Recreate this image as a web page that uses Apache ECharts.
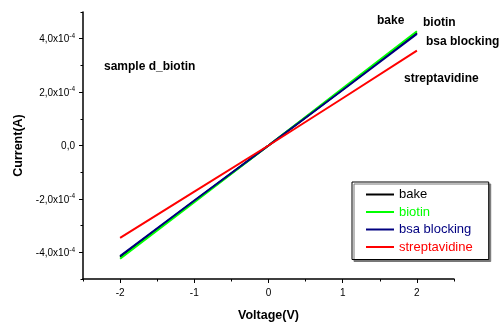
<!DOCTYPE html>
<html>
<head>
<meta charset="utf-8">
<script src="https://cdn.jsdelivr.net/npm/echarts@6/dist/echarts.min.js"></script>
<style>
  html, body { margin: 0; padding: 0; background: #fff; }
  #chart { width: 502px; height: 327px; }
</style>
</head>
<body>
<div id="chart"></div>
<script>
// data
const voltage = [-2, -1, 0, 1, 2]
const bake = [-4.17e-4, -2.08e-4, 0, 2.1e-4, 4.22e-4]
const biotin = [-4.24e-4, -2.12e-4, 0, 2.14e-4, 4.28e-4]
const bsaBlocking = [-4.14e-4, -2.06e-4, 0, 2.08e-4, 4.18e-4]
const streptavidine = [-3.46e-4, -1.73e-4, 0, 1.77e-4, 3.55e-4]

const xTickValues = [-2, -1, 0, 1, 2]
const yTickValues = [-4e-4, -2e-4, 0, 2e-4, 4e-4]
const yTickLabels = ['-4,0x10', '-2,0x10', '0,0', '2,0x10', '4,0x10']
const yTickExp = ['-4', '-4', '', '-4', '-4']

const FONT = '"Liberation Sans", Arial, sans-serif'

const pairs = (ys) => voltage.map((v, i) => [v, ys[i]])

const yLabel = (value) => {
    const i = yTickValues.findIndex(t => Math.abs(t - value) < 1e-9)
    if (i < 0) return ''
    if (!yTickExp[i]) return '{a|' + yTickLabels[i] + '}'
    return '{a|' + yTickLabels[i] + '}{s|' + yTickExp[i] + '}'
}

const line = (name, data, color) => ({
    name: name,
    type: 'line',
    data: pairs(data),
    showSymbol: false,
    symbol: 'none',
    lineStyle: { color: color, width: 2 },
    itemStyle: { color: color },
    xAxisIndex: 0,
    yAxisIndex: 0,
    animation: false
})

const ann = (text, x, y) => ({
    type: 'text', left: x, top: y,
    style: { text: text, font: 'bold 12px ' + FONT, fill: '#000' }
})

const option = {
    backgroundColor: '#fff',
    animation: false,
    grid: { left: 83, right: 48, top: 12, bottom: 42 },
    xAxis: [{
        type: 'value', min: -2.5, max: 2.5, interval: 0.5,
        splitLine: { show: false },
        axisLine: { show: true, onZero: false, lineStyle: { color: '#000', width: 1.5 } },
        axisTick: { show: true, length: 4, customValues: xTickValues, lineStyle: { color: '#000' } },
        axisLabel: { customValues: xTickValues, color: '#000', fontSize: 10, fontFamily: FONT, margin: 9 },
        name: 'Voltage(V)', nameLocation: 'middle', nameGap: 30,
        nameTextStyle: { color: '#000', fontWeight: 'bold', fontSize: 12.5, fontFamily: FONT }
    }, {
        // minor ticks
        type: 'value', min: -2.5, max: 2.5, interval: 0.5, position: 'bottom',
        splitLine: { show: false },
        axisLine: { show: false, onZero: false },
        axisTick: { show: true, length: 2.5, lineStyle: { color: '#000' } },
        axisLabel: { show: false }
    }],
    yAxis: [{
        type: 'value', min: -5e-4, max: 5e-4, interval: 1e-4,
        splitLine: { show: false },
        axisLine: { show: true, onZero: false, lineStyle: { color: '#000', width: 1.5 } },
        axisTick: { show: true, length: 4, customValues: yTickValues, lineStyle: { color: '#000' } },
        axisLabel: {
            customValues: yTickValues, formatter: yLabel, margin: 8,
            rich: {
                a: { fontSize: 10, fontFamily: FONT, color: '#000', lineHeight: 12, verticalAlign: 'bottom' },
                s: { fontSize: 6.5, fontFamily: FONT, color: '#000', lineHeight: 12, verticalAlign: 'top', padding: [0, 0, 4, 0] }
            }
        },
        name: 'Current(A)', nameLocation: 'middle', nameGap: 57,
        nameTextStyle: { color: '#000', fontWeight: 'bold', fontSize: 12.5, fontFamily: FONT }
    }, {
        // minor ticks
        type: 'value', min: -5e-4, max: 5e-4, interval: 1e-4, position: 'left',
        splitLine: { show: false },
        axisLine: { show: false, onZero: false },
        axisTick: { show: true, length: 2.5, lineStyle: { color: '#000' } },
        axisLabel: { show: false }
    }],
    legend: {
        orient: 'vertical', left: 352, top: 182,
        backgroundColor: '#fff', borderColor: '#000', borderWidth: 1,
        shadowColor: '#777', shadowOffsetX: 2, shadowOffsetY: 2, shadowBlur: 0,
        padding: [6, 16, 6, 14], itemGap: 4.5,
        icon: 'rect', itemWidth: 28, itemHeight: 2,
        textStyle: { fontSize: 13, fontFamily: FONT },
        data: [
            { name: 'bake', textStyle: { color: '#000' } },
            { name: 'biotin', textStyle: { color: '#00ff00' } },
            { name: 'bsa blocking', textStyle: { color: '#000080' } },
            { name: 'streptavidine', textStyle: { color: '#ff0000' } }
        ]
    },
    graphic: [
        ann('bake', 377, 15),
        ann('biotin', 423, 17),
        ann('bsa blocking', 426, 36),
        ann('streptavidine', 404, 73),
        ann('sample d_biotin', 104, 61)
    ],
    series: [
        line('bake', bake, '#000000'),
        line('biotin', biotin, '#00ff00'),
        line('bsa blocking', bsaBlocking, '#000080'),
        line('streptavidine', streptavidine, '#ff0000')
    ]
}

const chart = echarts.init(document.getElementById('chart'))
chart.setOption(option)
</script>
</body>
</html>
